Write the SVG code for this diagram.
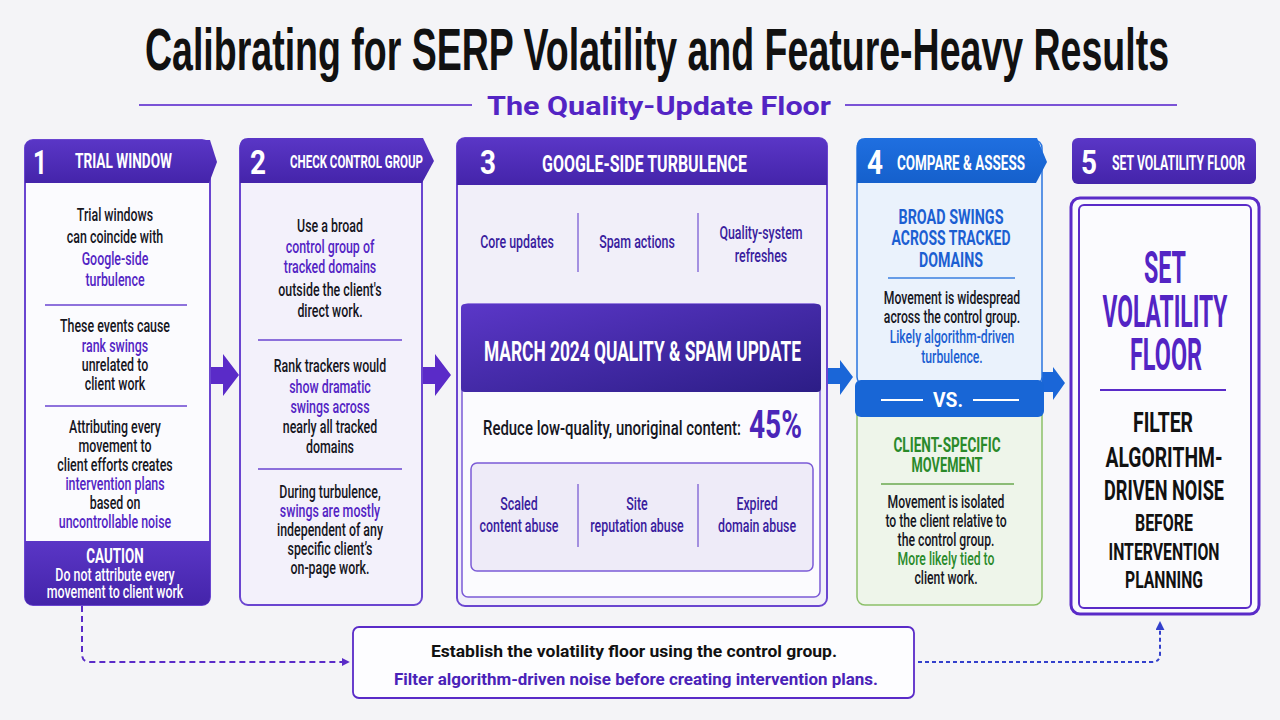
<svg xmlns="http://www.w3.org/2000/svg" width="1280" height="720" viewBox="0 0 1280 720">
<defs>
<linearGradient id="gP" x1="0" y1="0" x2="0" y2="1"><stop offset="0" stop-color="#5a36c6"/><stop offset="1" stop-color="#4424aa"/></linearGradient>
<linearGradient id="gB" x1="0" y1="0" x2="1" y2="1"><stop offset="0" stop-color="#5b37c8"/><stop offset="1" stop-color="#2c1d86"/></linearGradient>
<linearGradient id="gBl" x1="0" y1="0" x2="0" y2="1"><stop offset="0" stop-color="#1f6fe0"/><stop offset="1" stop-color="#1560cc"/></linearGradient>
<marker id="mP" viewBox="0 0 10 10" refX="9" refY="5" markerWidth="8" markerHeight="8" orient="auto" markerUnits="userSpaceOnUse"><path d="M0,0 L10,5 L0,10 Z" fill="#5a2bc8"/></marker>
<marker id="mB" viewBox="0 0 10 10" refX="9" refY="5" markerWidth="9" markerHeight="9" orient="auto" markerUnits="userSpaceOnUse"><path d="M0,0 L10,5 L0,10 Z" fill="#3340cc"/></marker>
<style>
.t{font-family:Roboto,"Liberation Sans",sans-serif;font-size:18.5px;font-weight:500;fill:#16161e;text-anchor:middle}
.p{fill:#5324c4}
.dp{fill:#3a1d9e}
.bl{fill:#1c5fd2}
.gr{fill:#2a8a2a}
.h{font-family:Roboto,"Liberation Sans",sans-serif;font-weight:700;fill:#fff}
.c{font-family:Roboto,"Liberation Sans",sans-serif;font-weight:700;text-anchor:middle}
.div{stroke:#6a45d0;stroke-width:1.5}
</style>
</defs>
<rect width="1280" height="720" fill="#f4f4f7"/>

<g id="title">
<text x="145" y="70" font-family="'Liberation Sans',sans-serif" font-weight="700" font-size="60" fill="#111" textLength="1024" lengthAdjust="spacingAndGlyphs">Calibrating for SERP Volatility and Feature-Heavy Results</text>
<line x1="139" y1="105" x2="472" y2="105" stroke="#7a52d6" stroke-width="2"/>
<line x1="845" y1="105" x2="1177" y2="105" stroke="#7a52d6" stroke-width="2"/>
<text x="487" y="115" font-family="Roboto,'Liberation Sans',sans-serif" font-weight="700" font-size="26" fill="#5324c4" textLength="344" lengthAdjust="spacingAndGlyphs">The Quality-Update Floor</text>
</g>

<g id="connectors">
<path d="M210,367 H223 V354 L239,375 L223,396 V384 H210 Z" fill="#5a2bc8"/>
<path d="M422,367 H435 V354 L451,375 L435,396 V384 H422 Z" fill="#5a2bc8"/>
<path d="M827,368 H840 V360 L853,377 L840,395 V384 H827 Z" fill="#1a66d8"/>
<path d="M1042,372 H1053 V367 L1065,383 L1053,400 V392 H1042 Z" fill="#1a66d8"/>
<path d="M82,606 V654 Q82,662 90,662 H349" fill="none" stroke="#5a2bc8" stroke-width="2" stroke-dasharray="6 4" marker-end="url(#mP)"/>
<path d="M918,662 H1152 Q1160,662 1160,654 V622" fill="none" stroke="#3340cc" stroke-width="2" stroke-dasharray="4 3" marker-end="url(#mB)"/>
</g>

<g id="step1">
<rect x="25" y="140" width="185" height="465" rx="8" fill="#fbfbfe" stroke="#6a45d0" stroke-width="2"/>
<path d="M25,183 V148 Q25,140 33,140 H210 L217,162 L209,183 Z" fill="url(#gP)"/>
<path d="M25,541 H210 V597 Q210,605 202,605 H33 Q25,605 25,597 Z" fill="url(#gP)"/>
<text class="h" x="40" y="174" font-size="34" text-anchor="middle" textLength="14" lengthAdjust="spacingAndGlyphs">1</text>
<text class="h" x="75" y="168" font-size="21" textLength="97" lengthAdjust="spacingAndGlyphs">TRIAL WINDOW</text>
<line class="div" x1="45" y1="305" x2="187" y2="305"/>
<line class="div" x1="45" y1="406" x2="187" y2="406"/>
<g transform="translate(115 0) scale(0.67 1)">
<text class="t" x="0" y="221">Trial windows</text>
<text class="t" x="0" y="243">can coincide with</text>
<text class="t p" x="0" y="265">Google-side</text>
<text class="t p" x="0" y="286">turbulence</text>
<text class="t" x="0" y="332">These events cause</text>
<text class="t p" x="0" y="352">rank swings</text>
<text class="t" x="0" y="371">unrelated to</text>
<text class="t" x="0" y="390">client work</text>
<text class="t" x="0" y="433">Attributing every</text>
<text class="t" x="0" y="452">movement to</text>
<text class="t" x="0" y="471">client efforts creates</text>
<text class="t p" x="0" y="490">intervention plans</text>
<text class="t" x="0" y="509">based on</text>
<text class="t p" x="0" y="528">uncontrollable noise</text>
<text class="t" x="0" y="563" style="fill:#fff;font-weight:700;font-size:20px">CAUTION</text>
<text class="t" x="0" y="581" style="fill:#fff">Do not attribute every</text>
<text class="t" x="0" y="598" style="fill:#fff">movement to client work</text>
</g>
</g>

<g id="step2">
<rect x="240" y="140" width="182" height="465" rx="8" fill="#f3f1fb" stroke="#6a45d0" stroke-width="2"/>
<path d="M240,183 V146 Q240,138 248,138 H423 L434,161 L422,183 Z" fill="url(#gP)"/>
<text class="h" x="258" y="174" font-size="34" text-anchor="middle" textLength="16" lengthAdjust="spacingAndGlyphs">2</text>
<text class="h" x="290" y="168" font-size="19" textLength="133" lengthAdjust="spacingAndGlyphs">CHECK CONTROL GROUP</text>
<line class="div" x1="258" y1="340" x2="402" y2="340"/>
<line class="div" x1="258" y1="469" x2="402" y2="469"/>
<g transform="translate(330 0) scale(0.67 1)">
<text class="t" x="0" y="232">Use a broad</text>
<text class="t p" x="0" y="253">control group of</text>
<text class="t p" x="0" y="273">tracked domains</text>
<text class="t" x="0" y="296">outside the client's</text>
<text class="t" x="0" y="317">direct work.</text>
<text class="t" x="0" y="372">Rank trackers would</text>
<text class="t p" x="0" y="393">show dramatic</text>
<text class="t p" x="0" y="413">swings across</text>
<text class="t" x="0" y="433">nearly all tracked</text>
<text class="t" x="0" y="453">domains</text>
<text class="t" x="0" y="498">During turbulence,</text>
<text class="t p" x="0" y="517">swings are mostly</text>
<text class="t" x="0" y="536">independent of any</text>
<text class="t" x="0" y="555">specific client’s</text>
<text class="t" x="0" y="574">on-page work.</text>
</g>
</g>

<g id="step3">
<rect x="457" y="138" width="370" height="468" rx="8" fill="#f1eff9" stroke="#6a45d0" stroke-width="2"/>
<path d="M457,185 V146 Q457,138 465,138 H819 Q827,138 827,146 V185 Z" fill="url(#gP)"/>
<text class="h" x="488" y="174" font-size="34" text-anchor="middle" textLength="16" lengthAdjust="spacingAndGlyphs">3</text>
<text class="h" x="542" y="172" font-size="23" textLength="205" lengthAdjust="spacingAndGlyphs">GOOGLE-SIDE TURBULENCE</text>
<line x1="578" y1="213" x2="578" y2="272" stroke="#8a70d8" stroke-width="1.5"/>
<line x1="698" y1="213" x2="698" y2="272" stroke="#8a70d8" stroke-width="1.5"/>
<g transform="translate(517 0) scale(0.67 1)"><text class="t dp" x="0" y="248">Core updates</text></g>
<g transform="translate(637 0) scale(0.67 1)"><text class="t dp" x="0" y="248">Spam actions</text></g>
<g transform="translate(761 0) scale(0.67 1)"><text class="t dp" x="0" y="239">Quality-system</text><text class="t dp" x="0" y="262">refreshes</text></g>
<rect x="462" y="304" width="358" height="293" rx="6" fill="#fbfbfe" stroke="#7b5bd6" stroke-width="1.5"/>
<rect x="461" y="304" width="360" height="88" rx="4" fill="url(#gB)"/>
<text class="h" x="484" y="361" font-size="28" textLength="317" lengthAdjust="spacingAndGlyphs">MARCH 2024 QUALITY &amp; SPAM UPDATE</text>
<text x="483" y="435" font-family="Roboto,'Liberation Sans',sans-serif" font-weight="500" font-size="21" fill="#16161e" textLength="258" lengthAdjust="spacingAndGlyphs">Reduce low-quality, unoriginal content:</text>
<text x="749" y="438" font-family="Roboto,'Liberation Sans',sans-serif" font-weight="700" font-size="38" fill="#4a26b8" textLength="53" lengthAdjust="spacingAndGlyphs">45%</text>
<rect x="471" y="463" width="342" height="108" rx="6" fill="#eeebf8" stroke="#7b5bd6" stroke-width="1.5"/>
<line x1="578" y1="484" x2="578" y2="547" stroke="#8a70d8" stroke-width="1.5"/>
<line x1="698" y1="484" x2="698" y2="547" stroke="#8a70d8" stroke-width="1.5"/>
<g transform="translate(519 0) scale(0.67 1)"><text class="t dp" x="0" y="510">Scaled</text><text class="t dp" x="0" y="532">content abuse</text></g>
<g transform="translate(637 0) scale(0.67 1)"><text class="t dp" x="0" y="510">Site</text><text class="t dp" x="0" y="532">reputation abuse</text></g>
<g transform="translate(757 0) scale(0.67 1)"><text class="t dp" x="0" y="510">Expired</text><text class="t dp" x="0" y="532">domain abuse</text></g>
</g>

<g id="step4">
<rect x="857" y="140" width="185" height="245" rx="8" fill="#eaf2fc" stroke="#2a74de" stroke-width="1.5"/>
<rect x="857" y="405" width="185" height="200" rx="8" fill="#eef5ea" stroke="#8cc06a" stroke-width="1.5"/>
<path d="M857,183 V146 Q857,138 865,138 H1037 L1047,162 L1036,183 Z" fill="url(#gBl)"/>
<rect x="855" y="380" width="189" height="37" rx="6" fill="#1866d6"/>
<text class="h" x="875" y="174" font-size="34" text-anchor="middle" textLength="16" lengthAdjust="spacingAndGlyphs">4</text>
<text class="h" x="897" y="170" font-size="21" textLength="128" lengthAdjust="spacingAndGlyphs">COMPARE &amp; ASSESS</text>
<text class="c" x="951" y="224" font-size="21" fill="#1c5fd2" textLength="105" lengthAdjust="spacingAndGlyphs">BROAD SWINGS</text>
<text class="c" x="951" y="245" font-size="21" fill="#1c5fd2" textLength="119" lengthAdjust="spacingAndGlyphs">ACROSS TRACKED</text>
<text class="c" x="951" y="267" font-size="21" fill="#1c5fd2" textLength="64" lengthAdjust="spacingAndGlyphs">DOMAINS</text>
<line x1="888" y1="278" x2="1015" y2="278" stroke="#3a7fe0" stroke-width="1.5"/>
<g transform="translate(952 0) scale(0.66 1)">
<text class="t" x="0" y="304">Movement is widespread</text>
<text class="t" x="0" y="323">across the control group.</text>
<text class="t bl" x="0" y="343">Likely algorithm-driven</text>
<text class="t bl" x="0" y="363">turbulence.</text>
</g>
<line x1="881" y1="400" x2="923" y2="400" stroke="#fff" stroke-width="2"/>
<line x1="973" y1="400" x2="1019" y2="400" stroke="#fff" stroke-width="2"/>
<text class="c" x="948" y="407" font-size="20" fill="#fff" textLength="30" lengthAdjust="spacingAndGlyphs">VS.</text>
<text class="c" x="947" y="452" font-size="21" fill="#2a8a2a" textLength="107" lengthAdjust="spacingAndGlyphs">CLIENT-SPECIFIC</text>
<text class="c" x="947" y="472" font-size="21" fill="#2a8a2a" textLength="71" lengthAdjust="spacingAndGlyphs">MOVEMENT</text>
<line x1="881" y1="484" x2="1014" y2="484" stroke="#6aa84f" stroke-width="1.5"/>
<g transform="translate(946 0) scale(0.66 1)">
<text class="t" x="0" y="508">Movement is isolated</text>
<text class="t" x="0" y="527">to the client relative to</text>
<text class="t" x="0" y="546">the control group.</text>
<text class="t gr" x="0" y="565">More likely tied to</text>
<text class="t" x="0" y="584">client work.</text>
</g>
</g>

<g id="step5">
<rect x="1072" y="138" width="184" height="46" rx="6" fill="url(#gP)"/>
<text class="h" x="1089" y="174" font-size="34" text-anchor="middle" textLength="16" lengthAdjust="spacingAndGlyphs">5</text>
<text class="h" x="1112" y="170" font-size="20" textLength="133" lengthAdjust="spacingAndGlyphs">SET VOLATILITY FLOOR</text>
<rect x="1071" y="198" width="188" height="416" rx="9" fill="#fbfbfe" stroke="#5a2bc8" stroke-width="3"/>
<rect x="1079" y="205" width="172" height="403" rx="5" fill="none" stroke="#5a2bc8" stroke-width="2"/>
<text class="c" x="1165" y="283" font-size="44" fill="#5324c4" textLength="42" lengthAdjust="spacingAndGlyphs">SET</text>
<text class="c" x="1165" y="327" font-size="44" fill="#5324c4" textLength="125" lengthAdjust="spacingAndGlyphs">VOLATILITY</text>
<text class="c" x="1166" y="370" font-size="44" fill="#5324c4" textLength="72" lengthAdjust="spacingAndGlyphs">FLOOR</text>
<line x1="1100" y1="390" x2="1226" y2="390" stroke="#5a2bc8" stroke-width="2"/>
<text class="c" x="1163" y="432" font-size="28" fill="#111" textLength="60" lengthAdjust="spacingAndGlyphs">FILTER</text>
<text class="c" x="1164" y="467" font-size="28" fill="#111" textLength="117" lengthAdjust="spacingAndGlyphs">ALGORITHM-</text>
<text class="c" x="1164" y="500" font-size="28" fill="#111" textLength="120" lengthAdjust="spacingAndGlyphs">DRIVEN NOISE</text>
<text class="c" x="1164" y="531" font-size="23" fill="#111" textLength="58" lengthAdjust="spacingAndGlyphs">BEFORE</text>
<text class="c" x="1164" y="560" font-size="23" fill="#111" textLength="111" lengthAdjust="spacingAndGlyphs">INTERVENTION</text>
<text class="c" x="1164" y="588" font-size="23" fill="#111" textLength="78" lengthAdjust="spacingAndGlyphs">PLANNING</text>
</g>

<g id="summary">
<rect x="353" y="627" width="561" height="71" rx="6" fill="#fdfdff" stroke="#5a2bc8" stroke-width="1.8"/>
<text x="634" y="657" font-family="Roboto,'Liberation Sans',sans-serif" font-weight="700" font-size="17" fill="#111" text-anchor="middle" textLength="406" lengthAdjust="spacingAndGlyphs">Establish the volatility floor using the control group.</text>
<text x="636" y="685" font-family="Roboto,'Liberation Sans',sans-serif" font-weight="700" font-size="17" fill="#4a22b8" text-anchor="middle" textLength="484" lengthAdjust="spacingAndGlyphs">Filter algorithm-driven noise before creating intervention plans.</text>
</g>
</svg>
